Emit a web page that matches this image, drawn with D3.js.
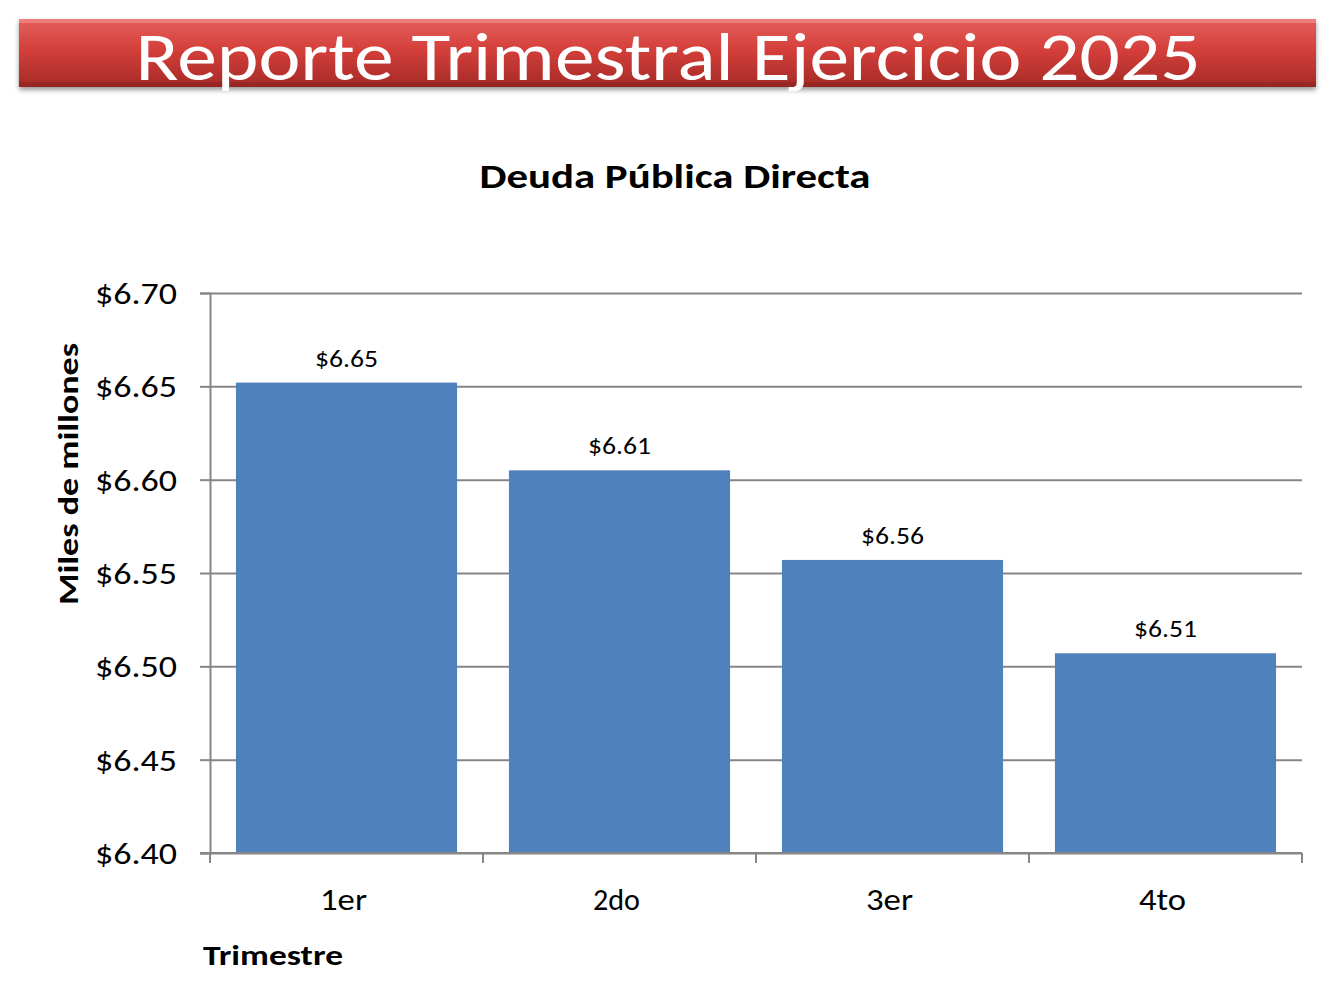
<!DOCTYPE html>
<html>
<head>
<meta charset="utf-8">
<script src="https://cdn.jsdelivr.net/npm/d3@7"></script>
<style>
  body { margin: 0; background: #fff; }
  svg { display: block; font-family: Carlito, "Open Sans", "Noto Sans", sans-serif; }
</style>
</head>
<body>
<svg width="1336" height="987"></svg>
<script>
const quarters = ["1er", "2do", "3er", "4to"]
const values = [6.652, 6.605, 6.557, 6.507]
const labels = ["$6.65", "$6.61", "$6.56", "$6.51"]
const yTicks = [6.40, 6.45, 6.50, 6.55, 6.60, 6.65, 6.70]

const svg = d3.select("svg")
const defs = svg.append("defs")

// banner gradient + shadow
const grad = defs.append("linearGradient").attr("id", "banner").attr("x1", 0).attr("y1", 0).attr("x2", 0).attr("y2", 1)
grad.append("stop").attr("offset", "0%").attr("stop-color", "#e4605c")
grad.append("stop").attr("offset", "45%").attr("stop-color", "#d43f3a")
grad.append("stop").attr("offset", "100%").attr("stop-color", "#a52a27")
const shadow = defs.append("filter").attr("id", "shadow").attr("x", "-5%").attr("y", "-20%").attr("width", "110%").attr("height", "160%")
shadow.append("feDropShadow").attr("dx", 0).attr("dy", 3).attr("stdDeviation", 2.5).attr("flood-color", "#000").attr("flood-opacity", 0.4)

svg.append("rect")
    .attr("x", 19).attr("y", 19).attr("width", 1297).attr("height", 68)
    .attr("fill", "url(#banner)")
    .attr("filter", "url(#shadow)")
// bevel highlight
svg.append("rect")
    .attr("x", 19).attr("y", 19).attr("width", 1297).attr("height", 4)
    .attr("fill", "#f08a86").attr("opacity", 0.7)
svg.append("rect")
    .attr("x", 19).attr("y", 82).attr("width", 1297).attr("height", 5)
    .attr("fill", "#8e2522").attr("opacity", 0.6)

svg.append("text")
    .attr("x", 668).attr("y", 80)
    .attr("text-anchor", "middle")
    .attr("fill", "#fff")
    .attr("font-size", 68)
    .attr("textLength", 1065)
    .attr("lengthAdjust", "spacingAndGlyphs")
    .text("Reporte Trimestral Ejercicio 2025")

svg.append("text")
    .attr("x", 675).attr("y", 188)
    .attr("text-anchor", "middle")
    .attr("font-weight", "bold")
    .attr("font-size", 34)
    .attr("textLength", 391)
    .attr("lengthAdjust", "spacingAndGlyphs")
    .text("Deuda Pública Directa")

const margin = { left: 210, right: 1302, top: 293, bottom: 853 }

const x = d3.scaleBand()
    .domain(quarters)
    .range([margin.left, margin.right])
    .paddingInner(0.19)
    .paddingOuter(0.095)

const y = d3.scaleLinear()
    .domain([6.40, 6.70])
    .range([margin.bottom, margin.top])

const gridColor = "#868686"

// gridlines + y ticks
svg.append("g")
    .attr("transform", `translate(${margin.left},0)`)
    .call(d3.axisLeft(y).tickValues(yTicks).tickSize(10).tickFormat(d => "$" + d3.format(".2f")(d)))
    .attr("font-family", null)
    .attr("font-size", null)
    .call(g => g.select(".domain").attr("stroke", gridColor).attr("stroke-width", 2))
    .call(g => g.selectAll(".tick line").attr("stroke", gridColor).attr("stroke-width", 2))
    .call(g => g.selectAll(".tick line").clone().attr("x2", margin.right - margin.left).attr("x1", 0))
    .call(g => g.selectAll(".tick text").attr("x", -33).attr("dy", "0.35em")
        .attr("font-size", 30).attr("fill", "#000")
        .attr("textLength", 82).attr("lengthAdjust", "spacingAndGlyphs"))

// bars
svg.append("g")
    .selectAll("rect")
    .data(values)
    .join("rect")
        .attr("x", (d, i) => x(quarters[i]))
        .attr("y", d => y(d))
        .attr("width", x.bandwidth())
        .attr("height", d => y(6.40) - y(d))
        .attr("fill", "#4f81bd")

// data labels
svg.append("g")
    .selectAll("text")
    .data(values)
    .join("text")
        .attr("x", (d, i) => x(quarters[i]) + x.bandwidth() / 2)
        .attr("y", d => y(d) - 16)
        .attr("text-anchor", "middle")
        .attr("font-size", 24)
        .attr("textLength", 63)
        .attr("lengthAdjust", "spacingAndGlyphs")
        .text((d, i) => labels[i])

// x axis
const xTickPos = d3.range(quarters.length + 1).map(i => margin.left + i * x.step())
const xAxis = svg.append("g")
xAxis.append("line")
    .attr("x1", margin.left - 10).attr("x2", margin.right)
    .attr("y1", margin.bottom).attr("y2", margin.bottom)
    .attr("stroke", gridColor).attr("stroke-width", 2)
xAxis.selectAll(".tk")
    .data(xTickPos)
    .join("line")
        .attr("x1", d => d).attr("x2", d => d)
        .attr("y1", margin.bottom).attr("y2", margin.bottom + 10)
        .attr("stroke", gridColor).attr("stroke-width", 2)
xAxis.selectAll("text")
    .data(quarters)
    .join("text")
        .attr("x", d => x(d) + x.bandwidth() / 2 - 3)
        .attr("y", 910)
        .attr("text-anchor", "middle")
        .attr("font-size", 31)
        .attr("textLength", 47)
        .attr("lengthAdjust", "spacingAndGlyphs")
        .text(d => d)

// axis titles
svg.append("text")
    .attr("x", 203).attr("y", 965)
    .attr("font-weight", "bold")
    .attr("font-size", 29)
    .attr("textLength", 140)
    .attr("lengthAdjust", "spacingAndGlyphs")
    .text("Trimestre")

svg.append("text")
    .attr("transform", "translate(78,474) rotate(-90)")
    .attr("text-anchor", "middle")
    .attr("font-weight", "bold")
    .attr("font-size", 29)
    .attr("textLength", 262)
    .attr("lengthAdjust", "spacingAndGlyphs")
    .text("Miles de millones")
</script>
</body>
</html>
